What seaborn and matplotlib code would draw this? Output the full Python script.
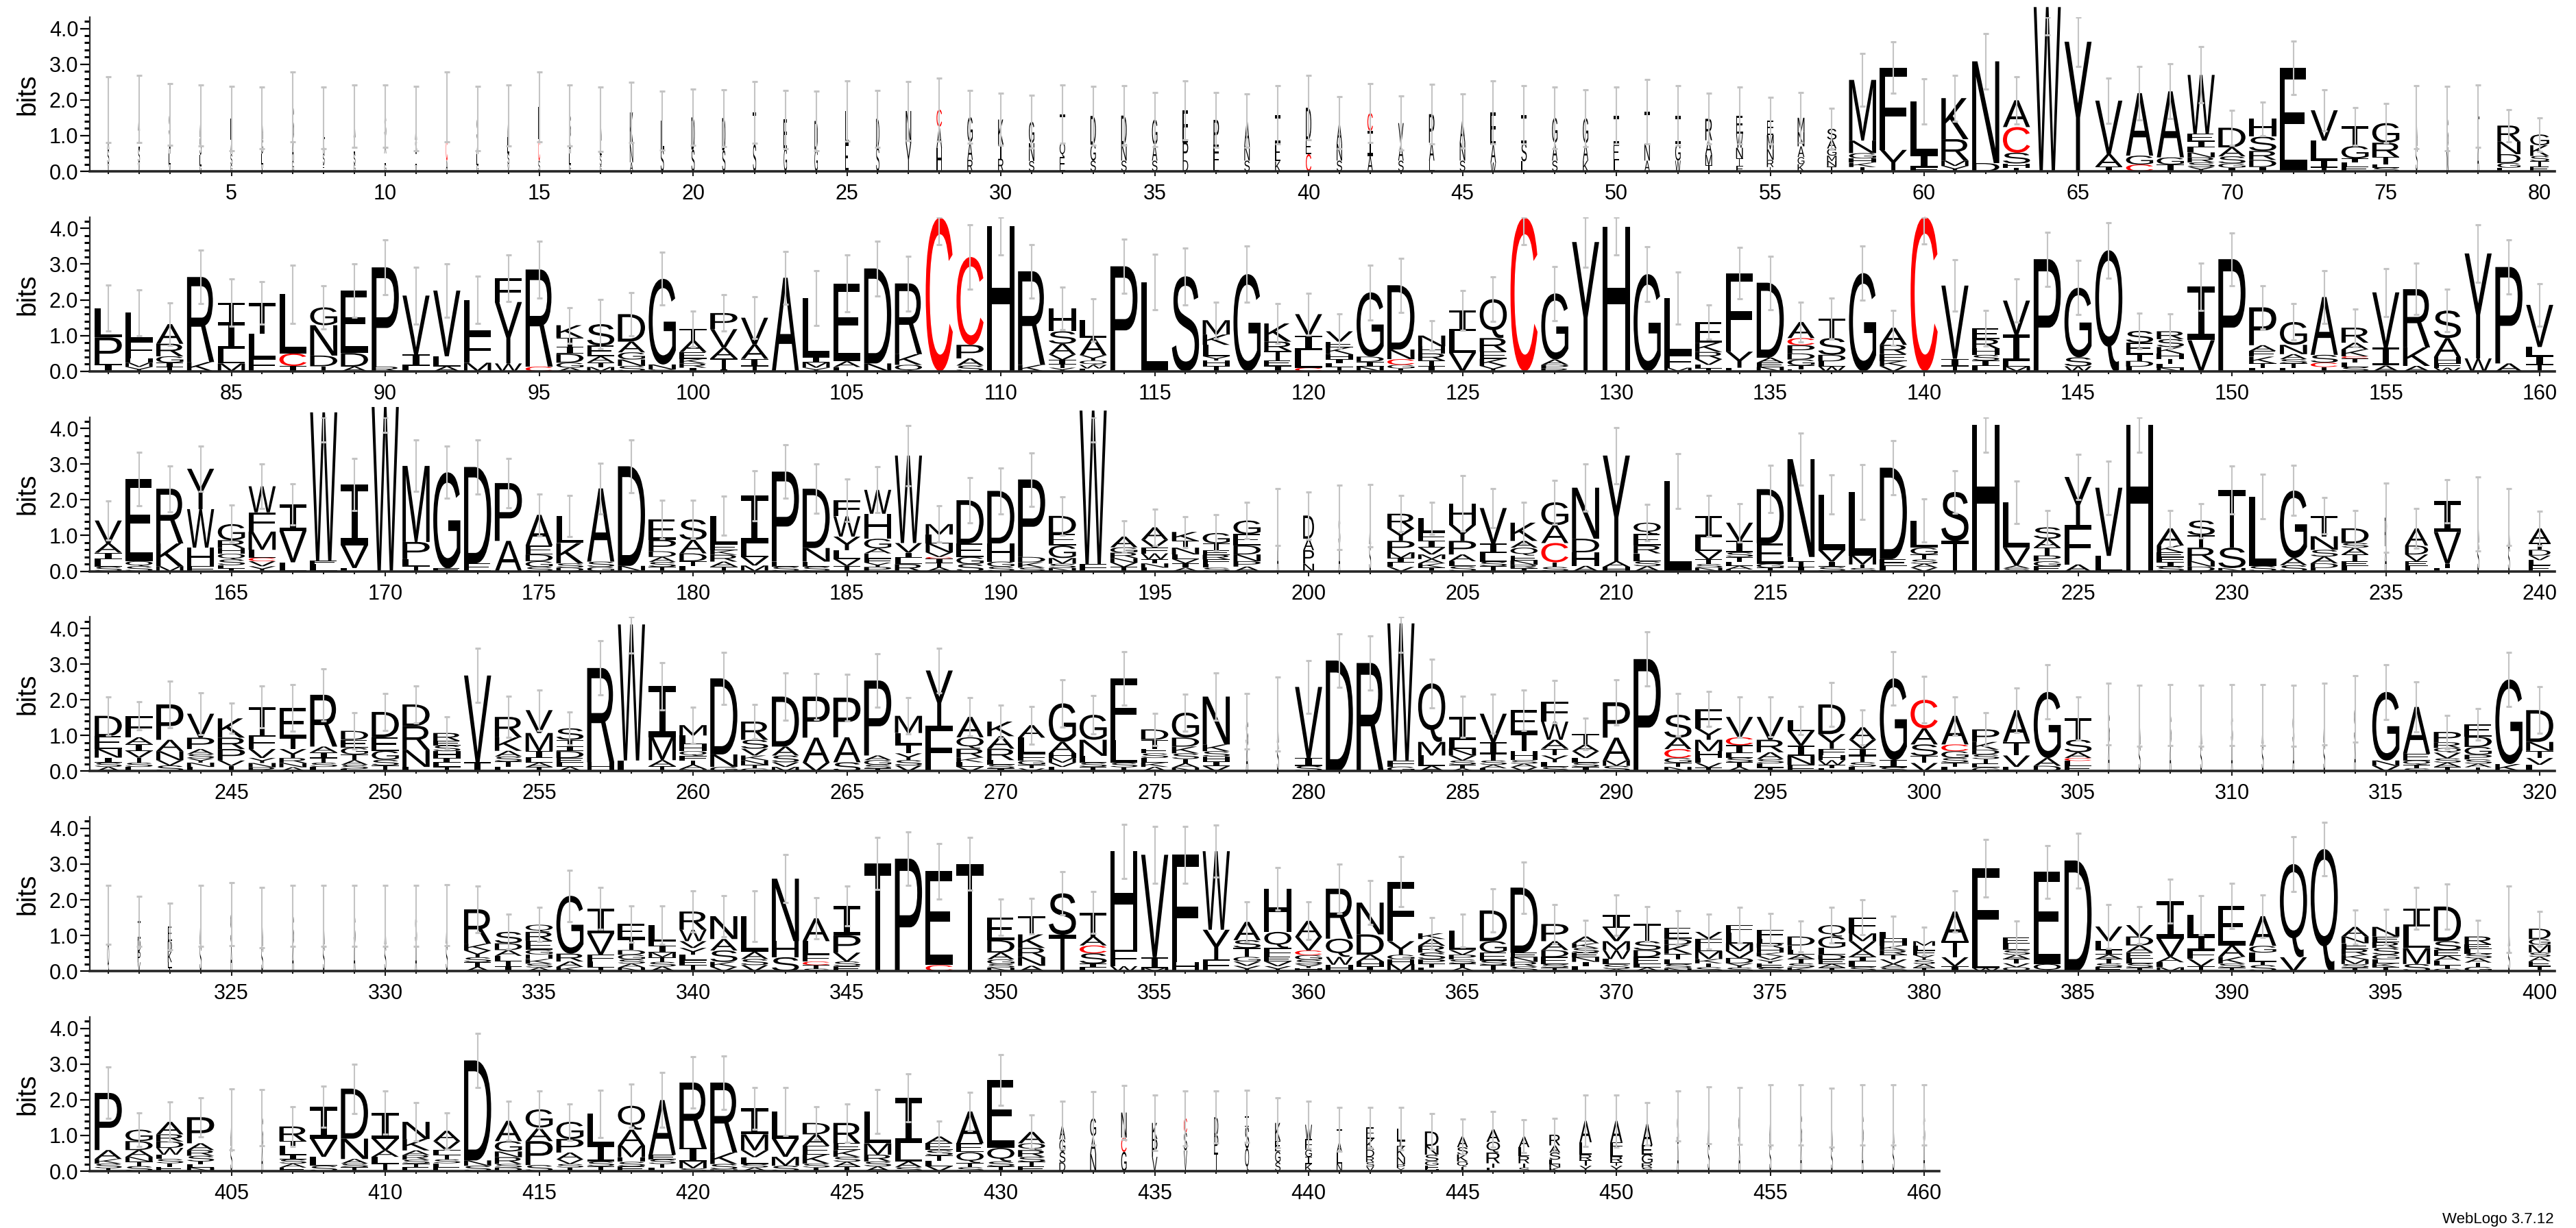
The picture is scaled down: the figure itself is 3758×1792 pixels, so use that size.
import re
import numpy as np
import matplotlib
matplotlib.use("Agg")
import matplotlib.pyplot as plt
import seaborn as sns
from matplotlib.textpath import TextPath
from matplotlib.font_manager import FontProperties
from matplotlib.patches import PathPatch
from matplotlib.transforms import Affine2D
from matplotlib.ticker import MultipleLocator, FixedLocator

# ---- data: each stack is written top letter first, "letter+bits" ----
ROW_STARTS = [1, 81, 161, 241, 321, 401]

STACK_1 = [
    "L.6A.5S.42V.2", "A.6L.5S.4V.24", "S.6A.5L.3V.19", "A.6S.5L.3G.16", "L.6A.4S.3G.18",
    "A.6S.4L.3V.2", "S.9A.6G.3", "L.6A.4S.3E.2", "A.6L.45S.3G.2", "S.6A.45L.3G.2",
    "A.6S.4L.3V.18", "L.9C.6A.3", "S.6A.4L.3G.18", "A.6L.46S.3V.2", "L.9C.6S.3",
    "S.6A.46L.3G.2", "A.6L.4S.3G.16", "K.9N.5A.25", "L.8S.62", "D.9S.61",
    "D.9S.59", "T.9S.75", "E.8G.65", "D.8G.61", "L.9E.79",
    "D.8S.67", "N.9Y.79", "C.48A.6H.65", "G.7A.5R.32", "K.7T.4R.35",
    "G.6N.5S.29", "T.8Q.4E.4", "D.8G.45S.3", "D.8N.46S.3", "G.7A.45S.3",
    "E.9P.5D.31", "P.7E.44L.3", "A.7N.42S.3", "I.8E.5K.28", "D.9E.4C.48",
    "A.6N.47S.3", "C.5I.7A.43", "V.6A.45S.3", "P.8A.5L.3", "A.6N.51S.3",
    "E.9A.5W.25", "I.8S.5L.28", "G.7A.5S.3", "G.7A.49K.3", "I.8E.46L.3",
    "T.9N.47A.3", "I.8G.46W.3", "R.6A.4M.3T.17", "E.5W.4N.3T.2F.16", "E.4M.4N.3R.2T.12",
    "M.4N.4A.3G.2K.2", "S.3A.25G.2M.15N.15T.14", "M1.7N.35G.15H.12K.12T.12", "F2.3Y.6", "L1.5I.35F.11",
    "K1.15R.6M.15Y.15", "N2.85D.23", "A.75C.72S.3H.12T.1", "W4.6", "Y3.63",
    "V1.5A.35I.13", "A1.75G.25C.19", "A1.85G.2I.19", "W1.65E.2I.17L.15N.14R.14S.13Y.12", "D.55A.25S.2G.12I.1",
    "H.5S.4R.25D.2I.12", "E2.9", "V.85L.55I.2T.11", "T.55G.35I.12L.12E.12", "G.55R.4T.2E.1S.1",
    "A.8S.71", "S.8N.68", "T.8A.74", "R.45N.35D.25G.13L.1", "G.3K.3S.15T.15E.13",
]
ERR_1 = [
    .92, .94, .87, .85, .9, .87, .98, .87, .87, .87, .9, .98, .9, .85, .98, .85, .91, .85, .83, .79,
    .79, .87, .81, .84, .85, .8, .83, .88, .74, .73, .74, .82, .83, .83, .75, .82, .77, .75, .82, .9,
    .73, .83, .76, .84, .76, .88, .82, .87, .8, .8, .9, .84, .71, .8, .65, .7, .57, .74, .72, .64,
    .64, .77, .66, .79, .7, .63, .75, .77, .79, .49, .47, .75, .58, .53, .55, .88, .9, .87, .45, .47,
]

STACK_2 = [
    "L.82P.75I.2", "L.78F.5H.12M.12Y.12", "A.55R.35G.18I.12T.12", "R2.38K.26", "T.55I.75L.4M.22",
    "T.86L.7F.36", "L1.66C.35I.15", "G.5N.85D.3T.14", "E1.75D.38A.13", "P2.78R.13",
    "V1.65I.32L.15", "V1.84L.28A.14", "L.96F.8M.24", "F.67Y1.72W.22", "R2.72C.13",
    "K.35T.25I.2D.25G.14A.1", "S.6E.3A.17T.13M.12", "D.77A.3G.2N.18S.15", "G2.4N.14S.05", "T.32A.32E.19K.13R.12I.1",
    "P.45V.52A.3T.3I.06", "V.75A.4I.2T.15", "A2.62", "L1.66I.14M.15Y.1", "E2.18A.16L.12",
    "D2.66N.22", "R1.98K.3Q.18", "C4.3", "C2.46P.38A.2S.16", "H4.06",
    "R2.62K.18", "H.64S.35A.3V.15I.12T.1Y.1", "L.51A.48Y.15Q.12W.1F.08", "P2.94", "L2.5",
    "S2.66", "M.4K.29L.32Y.12H.15T.15", "G2.72", "K.51R.26T.26E.16I.15", "V.6I.4L.5C.1",
    "V.29E.16K.19H.14I.12L.1T.12", "G1.8D.14I.14N.13", "D1.8N.27C.16G.1T.08", "N.3H.2R.2T.15I.15", "I.59L.6V.52",
    "Q1.09R.38E.2K.2Y.15", "C4.3", "G1.85A.15P.1R.08", "Y3.62", "H4.05",
    "G2.72", "L1.6F.35M.1", "E.58K.26R.2V.16L.1T.08", "F2.2Y.45L.1", "D2.1A.14E.12N.12",
    "A.45C.2P.23D.17G.17T.1E.06", "T.54S.47D.18L.14W.14", "G2.75", "A.48R.26E.19K.15V.14", "C4.32",
    "V2.05I.2T.15", "E.3R.26H.18S.16I.15L.15", "V.95I.75L.15M.13", "P3.14", "G1.95S.25W.14",
    "Q3.39", "S.33E.32T.19D.16L.13", "R.22S.22K.19H.14T.15L.1N.1", "I1.5V.87", "P3.14",
    "P1.06A.16E.16K.19T.12L.1", "G.64N.26A.14S.12T.12L.1", "A1.62S.22C.12T.12", "R.42A.19K.19C.06T.12L.12S.12", "V1.55I.5A.16",
    "R1.63K.52A.15", "S.77A.54H.16F.13W.1", "Y2.94W.36", "P2.7A.22", "V1.18L.26I.24T.18",
]
ERR_2 = [
    .65, .64, .6, .75, .66, .6, .82, .6, .74, .77, .8, .74, .66, .65, .8, .5, .7, .6, .74, .5,
    .51, .59, .74, .77, .79, .77, .77, .75, .9, .8, .75, .59, .59, .76, .78, .8, .51, .78, .55, .58,
    .48, .77, .76, .41, .56, .62, .75, .76, .7, .79, .77, .73, .48, .72, .75, .56, .58, .75, .49, .75,
    .72, .5, .6, .76, .76, .78, .5, .49, .66, .74, .61, .51, .74, .53, .67, .72, .59, .8, .76, .6,
]

STACK_3 = [
    "V.64A.26I.19L.2S.13", "E2.3Q.14S.14", "R1.53K.64M.14", "Y1.13W1.08H.52F.14", "G.45R.22H.16Q.16S.16L.1T.07",
    "W.73F.54M.51L.22C.1V.14Y.14", "I.74V.88L.25", "W4.15E.1L.2", "I1.7V.64L.09", "W4.6",
    "M2.13P.48L.19T.15", "G2.69E.08", "D2.7E.22", "P1.62A.85", "A.86E.25D.19G.16S.12",
    "L.76K.57S.12D.1", "A2.05S.15G.12", "D2.79N.15", "E.57P.32D.16A.14S.14T.12", "S.57A.38D.22T.14L.14",
    "L.8E.16K.13R.19A.14T.13", "I1.34L.38V.24M.16", "P2.52E.14S.13", "D1.66N.38E.14S.13", "F.45W.57Y.38L.25V.19T.15",
    "W.67H.7G.27A.14E.14F.12Y.12P.12", "W2.45V.27I.15L.17R.2", "M.29L.25N.25V.13C.05I.12T.12A.11", "D1.21E.38G.2S.2", "D1.47H.51G.14S.13",
    "P2.17D.15K.15S.1", "D.51E.32G.35M.16S.12N.09", "W4.3F.2", "A.3G.15R.15N.13V.12T.12", "A.35V.22F.16W.16T.12N.12L.1",
    "K.25T.19N.19L.13V.12I.12A.1", "G.29T.19E.13R.13F.12L.11S.1", "G.38E.32D.25N.19P.15A.13", "L.8A.72", "D.65A.32P.38N.21",
    "S.8A.71", "A.8S.76", "R.41Y.35P.32M.16I.13L.12V.12", "L.38F.25I.19V.19M.13A.12K.12T.1", "H.6Y.45P.38A.19L.14S.14",
    "V1.0I.25L.25S.13T.14", "K.51A.19Q.22E.14N.12R.1T.08", "G.64A.5C.54T.13S.12", "N1.43D.38H.38A.15", "Y2.96A.16H.12",
    "Q.32E.32R.22L.22S.14A.14", "L2.53", "I.6L.38V.24T.13S.1N.1", "V.51I.32S.13T.13L.12A.1E.05", "D1.52E.57G.11T.1",
    "N2.74L.13T.14I.13", "L1.56V.32I.15S.12", "L1.78M.25T.1S.09", "D2.56E.2L.14", "L.76G.19T.14S.12A.11V.1",
    "S1.37T.85", "H4.1", "L1.27V.5A.08S.08", "S.32A.25T.22P.16G.14E.14", "Y1.35F1.1A.19",
    "V1.91L.43", "H4.1", "A.48K.19E.13F.14I.13S.13", "S.41T.35R.38N.15D.13", "T1.62S.57N.09",
    "L1.94S.15", "G1.89A.2S.17", "T.57N.38S.19A.19D.13E.09", "D.41S.13A.19T.19E.14L.14", "P.8A.7",
    "A.48D.25V.19E.14L.14", "I.86V.89T.13L.08", "A.8S.8", "A.8S.72", "A.41T.19D.16V.13L.15E.16",
]
ERR_3 = [
    .55, .75, .64, .63, .53, .62, .58, .83, .72, .71, .72, .73, .75, .69, .59, .57, .71, .74, .54, .54,
    .55, .7, .75, .69, .59, .64, .84, .51, .63, .65, .75, .54, .88, .44, .51, .43, .51, .51, .8, .66,
    .9, .87, .51, .46, .77, .54, .58, .62, .66, .79, .51, .77, .57, .54, .66, .73, .54, .76, .76, .61,
    .6, .77, .59, .48, .63, .75, .77, .51, .48, .67, .62, .7, .51, .51, .97, .55, .61, 1.04, .79, .48,
]

STACK_4 = [
    "D.57E.35N.25I.14S.12A.12", "F.6A.19I.19V.19T.14S.12L.12", "P.99A.32N.25V.15S.16", "V.67P.32A.14S.12Y.12N.12L.12", "K.54R.32P.32V.15T.15",
    "T.8F.38V.25Y.14N.12R.11", "E.83T.32Y.25R.14N.12A.11", "R1.45A.16I.16T.13S.12L.12", "D.25E.22G.19T.16A.13S.12L.06", "D.71E.38G.25S.16T.16",
    "D.6R.67N.48L.12", "R.22E.13S.16H.19I.13L.12T.12", "V2.43I.25", "R.57K.38A.16S.14T.14L.13", "V.64M.51I.19L.13A.12T.12",
    "S.32T.19I.13D.19E.13L.12A.12", "R2.64H.25", "W3.81L.3", "I1.43M.64A.17T.14", "M.29L.25H.19Q.13F.13T.12A.12N.06",
    "D2.13N.35G.12", "R.51S.25V.19K.13N.13T.1G.08", "D1.4A.25S.19V.13M.12", "P1.15A.7V.24", "P1.11A.7S.25",
    "P2.1A.13G.13S.1T.08", "M.48L.32T.25Y.19S.15V.16", "Y1.55F1.27", "A.57Q.32R.25K.13L.13V.12", "K.41A.35R.32L.13S.1I.08",
    "A.35L.45F.19G.12T.1V.08", "G1.08A.32H.13M.13V.12L.12", "G.7N.45L.19S.12T.12", "F1.72L.64S.13T.11", "D.29T.25E.13S.13L.13K.12A.12",
    "G.7D.25K.19S.16T.12A.12N.1", "N1.34K.19S.15H.14I.13V.14", "S.7A.7", "A.8S.8", "V1.99I.22S.15",
    "D3.1", "R3.03", "W3.84F.17G.13", "Q1.64M.38L.29A.15", "I.64L.25N.19V.14S.12T.1A.08",
    "V.8I.32T.19S.12A.1L.08", "E.64T.51H.25S.1A.1V.11", "F.56W.51A.25T.19Y.19L.13S.12", "T.29A.19V.19L.13S.12I.12", "P.99A.64M.15S.15",
    "P3.14", "S.64A.32C.25G.13T.12N.12", "F.54Y.32M.32H.19L.14V.13T.1", "V.57C.22I.22L.13S.13T.13A.12", "V.64R.35A.19S.12L.12T.1",
    "L.29V.41I.29N.25F.18", "D.83Y.41F.19H.13W.13T.1L.08", "A.35V.25I.19T.19S.13L.12", "G2.29I.2S.11", "C.8A.45S.32T.2V.23",
    "A.8C.19G.19S.13T.12L.12", "P.35K.22D.13S.13T.12E.12G.1", "A.89T.38V.32L.12", "G1.85A.22D.15", "T.6S.35A.16C.08L.14E.15",
    "S.8A.8", "A.8S.75", "S.8A.77", "A.8S.75", "S.8A.77",
    "A.8S.77", "S.8A.75", "A.8S.8", "S.9A.85", "G1.92N.15V.15",
    "A1.31E.19Q.12T.1S.08", "P.29R.16Q.13V.16S.12A.12T.12", "E.35D.29G.22P.13S.12A.1T.11", "G2.37K.2", "D.89N.25T.2V.19L.18",
]
ERR_4 = [
    .54, .4, .65, .59, .42, .59, .65, .73, .5, .52, .52, .45, .76, .58, .57, .46, .76, .8, .66, .51,
    .73, .48, .67, .64, .65, .75, .51, .62, .54, .46, .53, .67, .54, .75, .45, .51, .67, .78, 1.03, .74,
    .75, .75, .81, .68, .58, .54, .57, .59, .44, .64, .76, .59, .49, .57, .56, .4, .61, .49, .75, .65,
    .54, .46, .62, .76, .61, .86, .85, .86, .85, .86, .86, .85, .86, .93, .77, .7, .47, .44, .76, .65,
]

STACK_5 = [
    "L.8Q.78", "I.5D.35P.3V.25", "E.4D.3K.3L.15T.1", "A.8S.75", "S.8A.8",
    "A.8S.7", "S.8A.75", "A.8S.75", "S.8A.75", "A.8S.75",
    "S.8A.75", "A.8S.77", "R.96K.19Y.19S.14T.13A.12", "S.32D.19A.16L.15T.15I.13", "Q.2R.25E.25G.13H.13K.13S.11A.1",
    "G1.62R.22A.15K.12", "I.7V.6F.19L.16T.11", "E.41T.32D.13G.13S.12A.11N.1", "L.45F.13I.19M.13T.13S.13A.13", "R.51W.32V.19Y.19L.15F.13T.18",
    "N.64A.32S.32K.14V.12", "L1.0A.2S.17V.17", "N1.75H.45S.39", "A.64L.38F.19C.1T.1S.07", "I.83P.48V.25S.13E.14",
    "T3.01", "P3.15", "E2.63C.17", "T3.0", "E.64D.35A.19G.13S.1N.1",
    "T.51K.38R.25N.25A.15", "S1.16T1.02", "T.67A.25C.22S.29I.11L.1", "H2.77F.45W.14", "V2.87I.3M.09",
    "F3.0H.26", "W2.2Y.83F.33", "A.51S.22T.25G.13V.12Y.15", "H1.21Q.45F.25E.13V.13Y.14", "A.45V.38C.13G.13S.13Y.1H.09",
    "R1.4Q.51W.22H.18", "N.89D.57A.19H.13I.14", "F1.66Y.38G.13H.13M.2", "K.16A.19R.19S.19P.12T.11L.1", "L.54V.13P.13S.12T.11A.1",
    "D.86G.32E.22S.13T.17", "D1.82E.13N.13R.13S.13", "P.48A.25D.19E.2S.1T.1", "A.19K.13S.13E.13N.13I.13L.13", "I.35V.38M.25W.25L.15S.13A.06",
    "T.48S.25D.19E.2L.1A.1", "E.32D.16K.25T.16L.13S.12N.08", "V.19F.19L.16M.22K.12T.11S.11", "F.22L.29M.22V.19D.15Y.12S.1", "F.25L.13R.13H.13K.1V.1Y.1E.12S.1",
    "D.25E.13L.13A.12T.12S.12K.1", "Q.32G.32L.19D.13E.13A.1T.1", "F.45M.22V.25A.19I.13L.15S.12", "L.19H.19K.13R.13T.13V.13A.1S.1", "M.13L.13F.13Y.13S.12A.1T.1",
    "A.83T.45V.25I.14", "F2.42L.37W.09", "E.16L.19S.13A.12T.12V.11Q.11", "E2.58Q.2", "D3.1",
    "V.41L.25I.13A.12T.12S.11E.11", "V.32D.25A.19E.19L.12S.12T.1", "I1.05V.51A.15L.14M.11", "L.6I.38F.25V.2T.14", "E1.11A.32K.19S.11T.1",
    "A.83G.19L.25T.1S.17", "Q2.61V.39", "Q3.42", "A.27N.19E.16R.16K.13M.13S.1T.1", "N.27E.16R.16S.19G.13L.11K.11T.11",
    "I.51L.6M.45S.2", "D.97S.25E.16A.13L.13T.1G.07", "R.22E.13L.13S.13A.12T.12G.12", "A.75S.7", "D.29G.16M.22S.12A.12E.14T.14",
]
ERR_5 = [
    .82, .7, .66, .85, .88, .85, .85, .85, .85, .85, .85, .86, .65, .49, .48, .72, .58, .51, .54, .58,
    .57, .71, .67, .58, .55, .73, .75, .78, .74, .51, .5, .6, .59, .76, .8, .8, .73, .56, .6, .53,
    .69, .61, .7, .45, .46, .61, .72, .54, .46, .56, .49, .48, .49, .49, .45, .43, .49, .49, .43, .4,
    .58, .8, .46, .74, .77, .62, .52, .61, .54, .63, .59, .77, .74, .48, .49, .58, .64, .46, .93, .49,
]

STACK_6 = [
    "P1.6A.25K.13S.13T.08", "G.32D.25A.19N.13T.13S.14", "A.35R.2D.18W.19L.12S.12T.1E.12", "P.73A.19R.16S.16T.07L.1N.1", "A.75S.7",
    "S.8A.7", "R.41T.13L.25I.13S.12A.11E.1", "I.89V.51L.25S.15", "D1.4N.57A.13S.1T.11", "I.73V.32A.19L.19T.21",
    "N.48K.32A.13R.13S.11T.1E.11", "A.29V.25F.13T.13S.11L.11E.11", "D2.8N.15S.15", "A.57G.29N.16R.19S.1D.1", "G.51A.38P.67S.17",
    "G.48P.38A.19V.13S.1T.1", "L.89I.45S.13T.14", "Q.67A.45M.32H.13S.13E.13", "A1.53E.13S.13T.1L.1", "R1.83I.38M.19S.08",
    "R1.96K.32S.15N.05", "I.73M.45V.19L.19S.1A.1", "L.76V.51M.25S.15", "D.32A.32E.25K.25S.11T.1", "R.57E.19K.19S.14A.13T.13",
    "L.89M.32R.19S.14A.13", "I1.27L.51A.16S.11", "A.19E.19S.15T.15L.15V.14", "A.89E.25Q.3T.12S.11", "E1.91Q.38S.14T.13",
    "A.32Q.19R.19S.14T.13E.13", "A.4G.35S.3D.24", "G.5A.5N.48", "N.7C.4G.54", "K.45P.5V.4",
    "C.4S.5V.58", "D.5P.5T.51", "I.3S.6Q.64", "K.5E.3G.3S.25", "W.4F.3G.2I.2K.2",
    "T.35A.3L.3N.22", "E.32K.3D.2R.15S.12V.13", "L.35I.15K.3N.2P.1Y.09", "D.4N.25S.18G.12F.1H.06", "A.3S.2K.2Q.15T.12",
    "A.35Q.3R.3T.12L.1", "A.3L.25R.2T.12S.1", "R.3A.2S.2L.12N.1K.1", "A.6L.35R.16T.15Y.15", "A.6F.2L.2R.16T.1Y.15",
    "A.6E.25G.25R.12S.1", "S.8A.75", "A.8S.77", "S.8A.75", "A.8S.77",
    "S.8A.77", "A.8S.7", "S.8A.77", "A.8S.77", "S.8A.77",
]
ERR_6 = [
    .72, .47, .56, .55, .86, .79, .56, .58, .69, .61, .54, .51, .75, .55, .52, .51, .66, .6, .77, .72,
    .75, .58, .67, .46, .54, .62, .67, .44, .54, .71, .47, .67, .75, .76, .78, .77, .73, .73, .7, .66,
    .61, .56, .59, .5, .49, .5, .46, .46, .72, .73, .6, .7, .8, .8, .85, .85, .82, .85, .85, .85,
]

# stack width (fraction of sequences without gaps), as runs (first, last, width)
NARROW_RUNS = [
    (1, 17, .04), (18, 26, .12), (27, 52, .2), (53, 56, .25), (57, 57, .35), (76, 78, .04),
    (79, 79, .85), (80, 80, .7), (199, 199, .04), (200, 200, .4), (201, 202, .03), (235, 235, .08),
    (236, 236, .85), (238, 239, .04), (240, 240, .8), (278, 278, .08), (279, 279, .05),
    (306, 313, .04), (314, 314, .05), (321, 321, .05), (322, 322, .1), (323, 323, .15),
    (324, 332, .03), (380, 380, .8), (399, 399, .05), (400, 400, .8), (405, 406, .05),
    (432, 433, .22), (434, 435, .2), (436, 436, .12), (437, 438, .15), (439, 439, .2),
    (440, 440, .25), (441, 441, .2), (442, 443, .3), (444, 444, .5), (445, 445, .4),
    (446, 446, .5), (447, 448, .4), (449, 450, .45), (451, 451, .4), (452, 452, .06), (453, 460, .03),
]

ROWS = [(STACK_1, ERR_1), (STACK_2, ERR_2), (STACK_3, ERR_3),
        (STACK_4, ERR_4), (STACK_5, ERR_5), (STACK_6, ERR_6)]

# ---- style ----
sns.set_style("ticks")
plt.rcParams['font.family'] = ['Liberation Sans', 'DejaVu Sans']
plt.rcParams['text.color'] = 'black'
plt.rcParams['axes.labelcolor'] = 'black'
plt.rcParams['xtick.color'] = 'black'
plt.rcParams['ytick.color'] = 'black'

FIG_W, FIG_H = 3758, 1792
PX_PER_POS = 44.9
LEFT_PX = 131
ZERO_Y0 = 250
ROW_STEP = 291.8
YMAX = 4.32
AX_H = YMAX * 52.1
STACK_W = 0.88
MIN_W = 0.065   # keep hairline stacks visible as a thin black stroke

widths = {}
for a, b, w in NARROW_RUNS:
    for p in range(a, b + 1):
        widths[p] = w

TOKEN = re.compile(r'([A-Z])(\d*\.?\d+)')
sans = FontProperties(family="Liberation Sans")
mono = FontProperties(family="Liberation Mono")   # serifed "I" like the logo's
glyphs = {}


def glyph(ch):
    if ch not in glyphs:
        tp = TextPath((0, 0), ch, size=1, prop=mono if ch == 'I' else sans)
        glyphs[ch] = (tp, tp.get_extents())
    return glyphs[ch]


def draw_letter(ax, ch, x, y, w, h):
    tp, bb = glyph(ch)
    t = (Affine2D().translate(-bb.x0, -bb.y0)
         .scale(w / bb.width, h / bb.height)
         .translate(x - w / 2, y))
    color = '#ff0000' if ch == 'C' else 'black'
    ax.add_patch(PathPatch(t.transform_path(tp), facecolor=color, edgecolor='none',
                           lw=0, clip_on=False, zorder=2))


fig = plt.figure(figsize=(FIG_W / 100, FIG_H / 100), dpi=100)

for i, (stacks, errs) in enumerate(ROWS):
    start = ROW_STARTS[i]
    n = len(stacks)
    x0, x1 = start - 0.6, start + n - 1 + 0.5
    width_px = (x1 - x0) * PX_PER_POS
    bottom_px = ZERO_Y0 + ROW_STEP * i
    ax = fig.add_axes([LEFT_PX / FIG_W, 1 - bottom_px / FIG_H, width_px / FIG_W, AX_H / FIG_H])
    ax.set_xlim(x0, x1)
    ax.set_ylim(0, YMAX)

    xs, lo, hi = [], [], []
    for k, s in enumerate(stacks):
        pos = start + k
        w = STACK_W * max(widths.get(pos, 1.0), MIN_W)
        y = 0.0
        for ch, h in reversed([(c, float(v)) for c, v in TOKEN.findall(s)]):
            draw_letter(ax, ch, pos, y, w, h)
            y += h
        e = errs[k] if k < len(errs) else 0.7
        xs.append(pos)
        lo.append(max(y - e, 0))
        hi.append(min(y + e, YMAX))
    xs, lo, hi = np.array(xs), np.array(lo), np.array(hi)
    ax.errorbar(xs, lo, yerr=[np.zeros_like(lo), hi - lo], fmt='none', ecolor='#c4c4c4',
                elinewidth=1.5, capsize=3, capthick=2.2, zorder=3)

    sns.despine(ax=ax)
    ax.spines['left'].set_linewidth(1.6)
    ax.spines['bottom'].set_linewidth(2.6)
    ax.yaxis.set_major_locator(FixedLocator([0, 1, 2, 3, 4]))
    ax.set_yticklabels(['0.0', '1.0', '2.0', '3.0', '4.0'])
    ax.yaxis.set_minor_locator(MultipleLocator(0.2))
    ax.xaxis.set_major_locator(MultipleLocator(5))
    ax.xaxis.set_minor_locator(MultipleLocator(1))
    ax.tick_params(axis='y', which='major', length=10, width=1.6, labelsize=22, pad=2)
    ax.tick_params(axis='y', which='minor', length=6, width=2.2)
    ax.tick_params(axis='x', which='major', length=5, width=1.3, labelsize=22, pad=8)
    ax.tick_params(axis='x', which='minor', length=3, width=1.3)
    ax.set_ylabel("bits", fontsize=28)
    ax.yaxis.set_label_coords(-(LEFT_PX - 58) / width_px, 0.5)

fig.text(3726 / FIG_W, 1 - 1785 / FIG_H, "WebLogo 3.7.12", ha='right', va='baseline', fontsize=16)

fig.savefig("out.png", dpi=100)
plt.close(fig)
